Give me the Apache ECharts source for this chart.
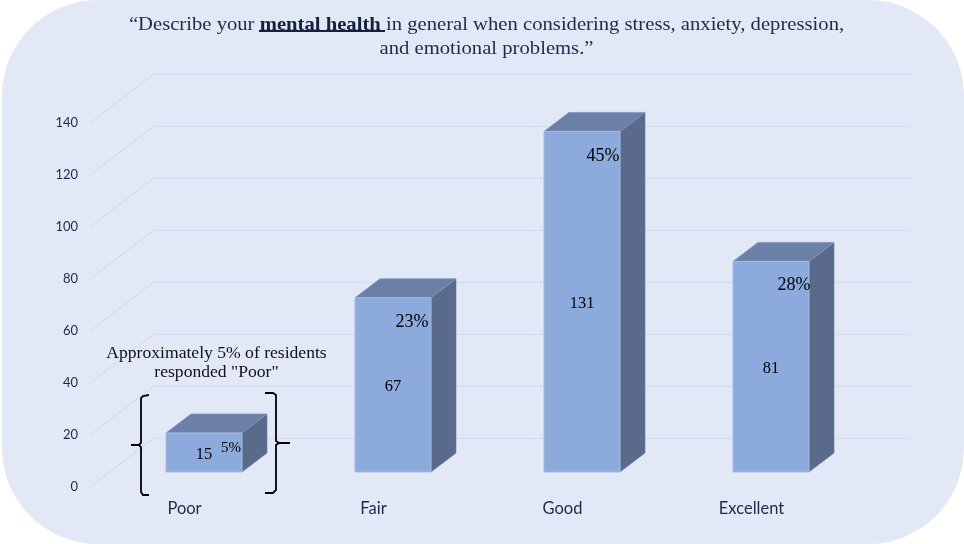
<!DOCTYPE html>
<html><head><meta charset="utf-8">
<style>html,body{margin:0;padding:0;background:#fff}#c{width:964px;height:544px}</style>
<script src="https://cdn.jsdelivr.net/npm/echarts@6/dist/echarts.min.js"></script>
</head><body><div id="c"></div>
<script>
const categories = ['Poor', 'Fair', 'Good', 'Excellent'];
const counts = [15, 67, 131, 81];
const percents = ['5%', '23%', '45%', '28%'];
const yTicks = [0, 20, 40, 60, 80, 100, 120, 140];
const titleLine1 = ['\u201CDescribe your ', 'mental health ', 'in general when considering stress, anxiety, depression,'];
const titleLine2 = 'and emotional problems.\u201D';
const noteLines = ['Approximately 5% of residents', 'responded "Poor"'];

// layout of the pseudo-3D projection (pixels)
const WALL = [64, -49], BAR_PLANE = [19.5, -15], BAR_DEPTH = [25, -19], BAR_W = 76;
const PCT_LAYOUT = [[-11, 15, 15], [-19, 24, 18], [-17, 25, 18], [-15, 24, 18]];
const SERIF = '"Liberation Serif","Times New Roman",serif';
const BG = '#E2E8F5', GRID = '#CFDBF0', INK = '#1E2A47', INK_BOLD = '#14213F';
const TITLE_SIZE = 18.8, TITLE_STRETCH = 1.1;

const chart = echarts.init(document.getElementById('c'), null, {renderer: 'canvas'});

function renderBar(params, api) {
  const i = api.value(0), v = api.value(1);
  const base = api.coord([i, 0]), top = api.coord([i, v]);
  const xl = base[0] + BAR_PLANE[0] - BAR_W / 2, xr = xl + BAR_W;
  const yb = base[1] + BAR_PLANE[1], yt = top[1] + BAR_PLANE[1];
  const dx = BAR_DEPTH[0], dy = BAR_DEPTH[1];
  const edge = {stroke: '#A3BBE3', lineWidth: 1};
  const p = PCT_LAYOUT[i];
  return {type: 'group', children: [
    {type: 'polygon', shape: {points: [[xr, yb], [xr + dx, yb + dy], [xr + dx, yt + dy], [xr, yt]]},
      style: {fill: '#5A6A8B', stroke: '#6B7CA0', lineWidth: 0.6}},
    {type: 'polygon', shape: {points: [[xl, yt], [xl + dx, yt + dy], [xr + dx, yt + dy], [xr, yt]]},
      style: {fill: '#6C7FA6', stroke: '#8095BE', lineWidth: 0.8}},
    {type: 'rect', shape: {x: xl, y: yt, width: BAR_W, height: yb - yt},
      style: {fill: '#8CAADC', ...edge}},
    {type: 'text', x: (xl + xr) / 2, y: (yb + yt) / 2 + 2,
      style: {text: String(v), fill: '#000', font: '16.5px ' + SERIF, align: 'center', verticalAlign: 'middle'}},
    {type: 'text', x: xr + p[0], y: yt + p[1],
      style: {text: percents[i], fill: '#000', font: p[2] + 'px ' + SERIF, align: 'center', verticalAlign: 'middle'}}
  ]};
}
function renderDiagonal(params, api) {
  const c = api.coord([0, api.value(0)]);
  const x0 = c[0] - api.size([1, 0])[0] / 2;
  return {type: 'line', shape: {x1: x0, y1: c[1], x2: x0 + WALL[0], y2: c[1] + WALL[1]},
    style: {stroke: GRID, lineWidth: 1}};
}
function bracket(points) {
  return {type: 'polyline', z: 60, shape: {points}, style: {stroke: '#000', lineWidth: 1.8, fill: null}};
}
chart.setOption({
  animation: false,
  backgroundColor: '#fff',
  grid: [
    {left: 154, top: 74, width: 757, height: 364},
    {left: 90, top: 123, width: 756, height: 364}
  ],
  xAxis: [
    {gridIndex: 0, type: 'category', data: categories, axisLine: {show: false}, axisTick: {show: false}, axisLabel: {show: false}},
    {gridIndex: 1, type: 'category', data: categories, axisLine: {show: false}, axisTick: {show: false},
      axisLabel: {margin: 13, color: INK, fontFamily: 'Lato', fontSize: 16.5}}
  ],
  yAxis: [
    {gridIndex: 0, type: 'value', min: 0, max: 140, interval: 20, axisLine: {show: false}, axisTick: {show: false},
      axisLabel: {show: false}, splitLine: {lineStyle: {color: GRID, width: 1}}},
    {gridIndex: 1, type: 'value', min: 0, max: 140, interval: 20, axisLine: {show: false}, axisTick: {show: false},
      axisLabel: {margin: 12, color: INK, fontFamily: 'Lato', fontSize: 13}, splitLine: {show: false}}
  ],
  series: [
    {type: 'custom', name: 'grid depth', xAxisIndex: 1, yAxisIndex: 1, coordinateSystem: 'cartesian2d', clip: false, z: 1, silent: true,
      renderItem: renderDiagonal, encode: {y: 0}, data: yTicks.map(t => [t])},
    {type: 'custom', name: 'Responses', xAxisIndex: 1, yAxisIndex: 1, coordinateSystem: 'cartesian2d', clip: false, z: 3,
      renderItem: renderBar, encode: {x: 0, y: 1}, data: counts.map((v, i) => [i, v])}
  ],
  graphic: {elements: [
    {type: 'rect', z: -100, silent: true, shape: {x: 2, y: 0, width: 962, height: 544, r: 96}, style: {fill: BG}},
    {type: 'text', z: 60, x: 486.5, y: 25, scaleX: TITLE_STRETCH,
      style: {text: titleLine1[0] + '{b|' + titleLine1[1] + '}' + titleLine1[2], align: 'center', verticalAlign: 'middle',
        font: TITLE_SIZE + 'px ' + SERIF, fill: INK,
        rich: {b: {fontFamily: 'Liberation Serif', fontSize: TITLE_SIZE, fontWeight: 'bold', fill: INK_BOLD, color: INK_BOLD}}}},
    {type: 'line', z: 60, shape: {x1: 259, y1: 31, x2: 385, y2: 31}, style: {stroke: INK_BOLD, lineWidth: 2.2}},
    {type: 'text', z: 60, x: 486.5, y: 49.5, scaleX: TITLE_STRETCH,
      style: {text: titleLine2, align: 'center', verticalAlign: 'middle', font: TITLE_SIZE + 'px ' + SERIF, fill: INK}},
    {type: 'text', z: 60, x: 216.5, y: 353,
      style: {text: noteLines[0], align: 'center', verticalAlign: 'middle', font: '17.6px ' + SERIF, fill: '#111'}},
    {type: 'text', z: 60, x: 216.5, y: 372,
      style: {text: noteLines[1], align: 'center', verticalAlign: 'middle', font: '17.6px ' + SERIF, fill: '#111'}},
    bracket([[149, 395], [143, 396], [141, 398], [141, 443], [139, 445], [131, 445], [139, 445], [141, 447], [141, 492], [143, 495], [149, 495]]),
    bracket([[265, 393], [273, 393], [276, 395], [276, 441], [279, 443], [290, 443], [279, 443], [276, 445], [276, 490], [273, 493], [265, 493]])
  ]}
});
</script></body></html>
